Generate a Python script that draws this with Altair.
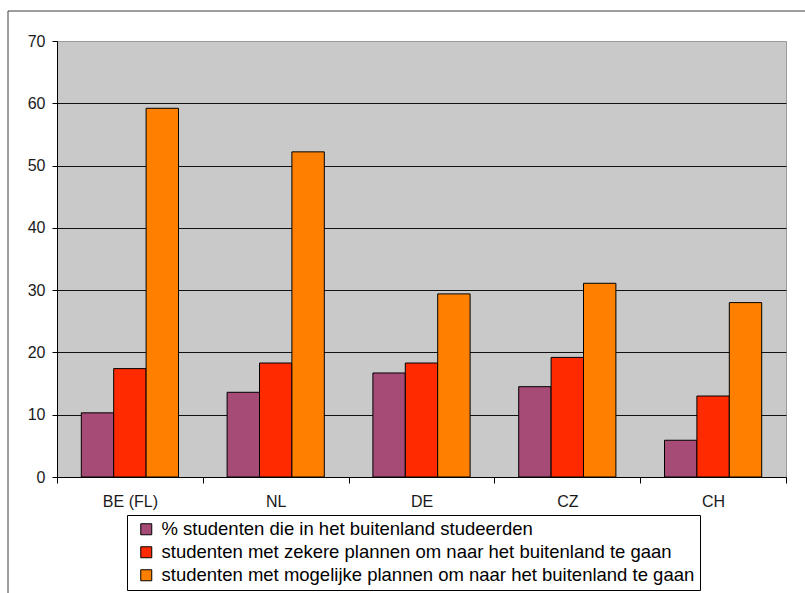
import altair as alt
import pandas as pd

# Countries on the x axis
countries = ["BE (FL)", "NL", "DE", "CZ", "CH"]

# Series labels
series_names = [
    "% studenten die in het buitenland studeerden",
    "studenten met zekere plannen om naar het buitenland te gaan",
    "studenten met mogelijke plannen om naar het buitenland te gaan",
]
series_colors = ["#A64A76", "#FF2A00", "#FF8000"]

# Values per series (percent)
studied = [10.3, 13.6, 16.7, 14.5, 5.9]
certain_plans = [17.4, 18.3, 18.3, 19.2, 13.0]
possible_plans = [59.2, 52.2, 29.4, 31.1, 28.0]

y_ticks = [0, 10, 20, 30, 40, 50, 60, 70]

rows = []
for name, vals in zip(series_names, [studied, certain_plans, possible_plans]):
    for c, v in zip(countries, vals):
        rows.append({"country": c, "series": name, "value": v})
df = pd.DataFrame(rows)

FONT = "Liberation Sans"

bars = alt.Chart(df).mark_bar(stroke="black", strokeWidth=1).encode(
    x=alt.X(
        "country:N",
        sort=countries,
        scale=alt.Scale(paddingInner=0, paddingOuter=0),
        axis=alt.Axis(
            title=None,
            labelAngle=0,
            tickBand="extent",
            tickSize=6,
            labelPadding=10,
            labelFontSize=16,
            grid=False,
        ),
    ),
    xOffset=alt.XOffset(
        "series:N",
        sort=series_names,
        scale=alt.Scale(paddingInner=0, paddingOuter=0.75),
    ),
    y=alt.Y(
        "value:Q",
        scale=alt.Scale(domain=[0, 70], nice=False),
        axis=alt.Axis(
            title=None,
            values=y_ticks,
            tickSize=5,
            labelPadding=7,
            labelFontSize=16,
            grid=True,
            gridWidth=1,
            gridColor={
                "condition": {"test": "datum.value === 70", "value": "#9A9A9A"},
                "value": "#111111",
            },
        ),
    ),
    color=alt.Color(
        "series:N",
        sort=series_names,
        scale=alt.Scale(domain=series_names, range=series_colors),
        legend=alt.Legend(
            title=None,
            orient="none",
            legendX=70,
            legendY=474,
            direction="vertical",
            symbolType="square",
            symbolSize=121,
            symbolStrokeColor="black",
            symbolStrokeWidth=1,
            symbolOffset=5,
            labelFontSize=18.5,
            labelOffset=6,
            labelLimit=900,
            rowPadding=4,
            padding=5,
            strokeColor="black",
            fillColor="white",
        ),
    ),
)

# Outer frame around the whole figure
frame = alt.Chart(pd.DataFrame({"k": [0]})).mark_rect(
    fillOpacity=0, stroke="#3C3C3C", strokeWidth=1
).encode(
    x=alt.value(-49),
    x2=alt.value(780),
    y=alt.value(-30),
    y2=alt.value(580),
)

chart = (
    alt.layer(frame, bars)
    .properties(
        width=729,
        height=436,
        autosize=alt.AutoSizeParams(type="none"),
        padding={"left": 57, "top": 41, "right": 19, "bottom": 116},
        background="white",
    )
    .configure_view(fill="#C9C9C9", stroke="#9A9A9A", strokeWidth=1)
    .configure_axis(
        labelFont=FONT,
        labelColor="#1A1A1A",
        domainColor="black",
        tickColor="black",
        domainWidth=1,
    )
    .configure_legend(labelFont=FONT, labelColor="black")
)

chart.save("out.html", embed_options={"renderer": "svg", "actions": False})
